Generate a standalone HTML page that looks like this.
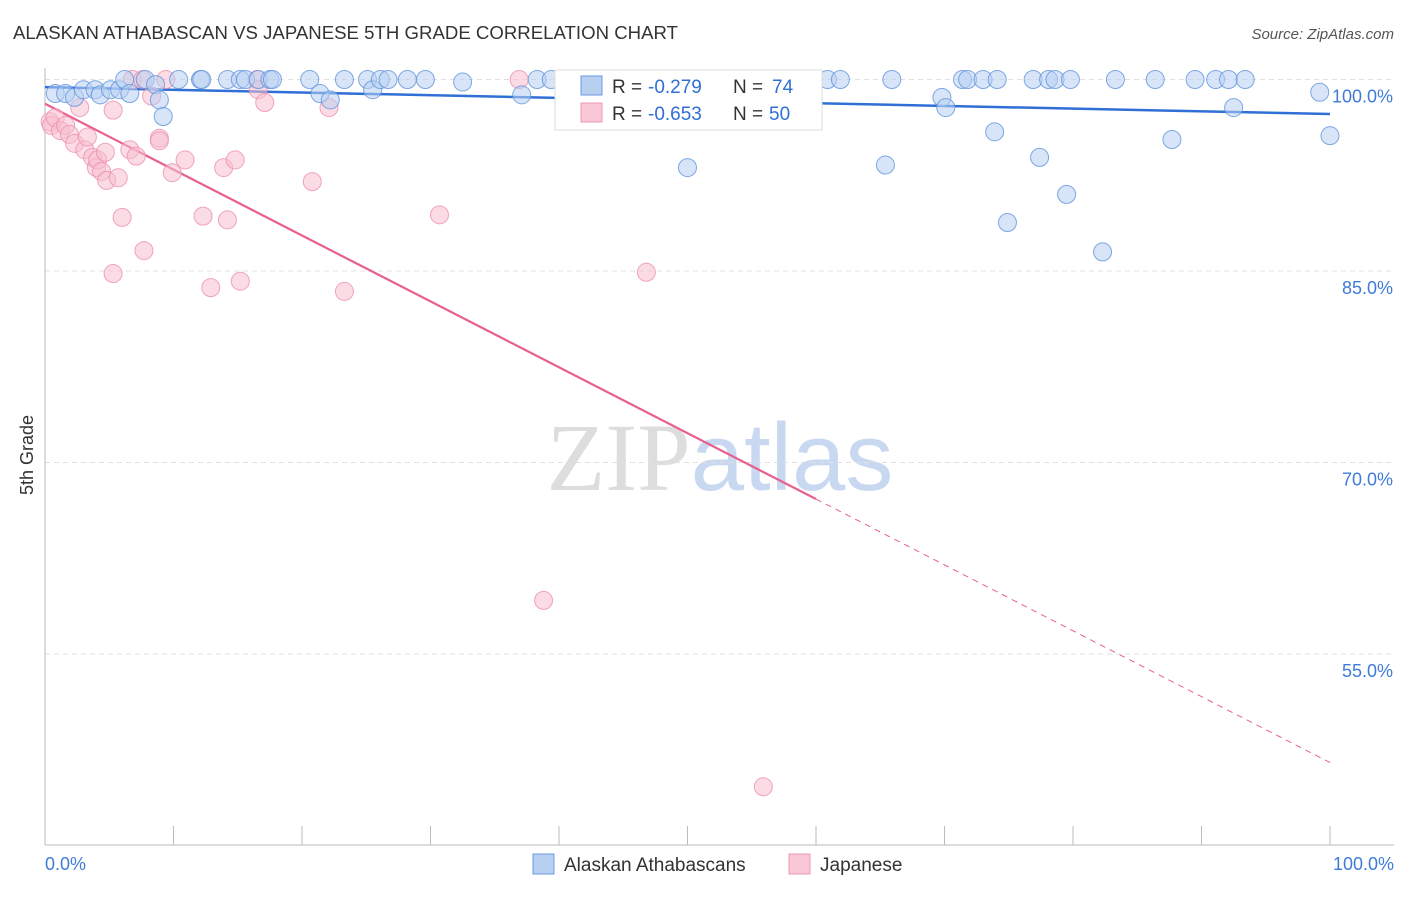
<!DOCTYPE html>
<html><head><meta charset="utf-8"><style>
body{margin:0;background:#fff;font-family:"Liberation Sans",sans-serif}
text{font-family:"Liberation Sans",sans-serif}
</style></head><body>
<svg id="chart" width="1406" height="892" xmlns="http://www.w3.org/2000/svg">
<text x="13" y="39" font-size="18.6" fill="#333" textLength="665">ALASKAN ATHABASCAN VS JAPANESE 5TH GRADE CORRELATION CHART</text>
<text x="1394" y="39" font-size="15" fill="#555" text-anchor="end" font-style="italic">Source: ZipAtlas.com</text>
<text x="720" y="490" font-size="96" text-anchor="middle"><tspan fill="#ddd" font-family="Liberation Serif">ZIP</tspan><tspan fill="#c8d8f0">atlas</tspan></text>
<text transform="translate(33,455) rotate(-90)" font-size="18" fill="#333" text-anchor="middle">5th Grade</text>
<g id="grid"></g><g id="axes"></g><g id="lines"></g><g id="points"></g>
<g>
<rect x="555" y="70" width="267" height="60" fill="#fff" stroke="#ddd"/>
<rect x="581" y="76" width="21" height="19" fill="#b8d0f0" stroke="#6a9ae0"/>
<text x="612" y="93" font-size="19" fill="#333">R =</text>
<text x="648" y="93" font-size="19" fill="#2f6fd6">-0.279</text>
<text x="733" y="93" font-size="19" fill="#333">N =</text>
<text x="772" y="93" font-size="19" fill="#2f6fd6">74</text>
<rect x="581" y="103" width="21" height="19" fill="#f8c8d6" stroke="#ee9ab4"/>
<text x="612" y="120" font-size="19" fill="#333">R =</text>
<text x="648" y="120" font-size="19" fill="#2f6fd6">-0.653</text>
<text x="733" y="120" font-size="19" fill="#333">N =</text>
<text x="769" y="120" font-size="19" fill="#2f6fd6">50</text>
</g>
<g>
<rect x="533" y="854" width="21" height="20" fill="#b8d0f0" stroke="#6a9ae0"/>
<text x="564" y="871" font-size="19" fill="#333">Alaskan Athabascans</text>
<rect x="789" y="854" width="21" height="20" fill="#f8c8d6" stroke="#ee9ab4"/>
<text x="820" y="871" font-size="19" fill="#333">Japanese</text>
</g>
</svg>
<script>
const blueX=[0.8,1.6,2.3,3.0,3.9,4.3,5.1,5.8,6.2,6.6,7.8,8.6,8.9,9.2,10.4,12.1,12.2,14.2,15.2,15.6,16.6,17.5,17.7,20.6,21.4,22.2,23.3,25.1,25.5,26.1,26.7,28.2,29.6,32.5,37.1,38.3,39.4,41.2,50.0,52.9,60.9,61.9,65.4,65.9,69.8,70.1,71.4,71.8,73.0,73.9,74.1,74.9,76.9,77.4,78.1,78.6,79.5,79.8,82.3,83.3,86.4,87.7,89.5,91.1,92.1,92.5,93.4,99.2,100.0];
const blueY=[98.9,98.9,98.6,99.2,99.2,98.8,99.2,99.2,100,98.9,100,99.6,98.4,97.1,100,100,100,100,100,100,100,100,100,100,98.9,98.4,100,100,99.2,100,100,100,100,99.8,98.8,100,100,100,93.1,97.1,100,100,93.3,100,98.6,97.8,100,100,100,95.9,100,88.8,100,93.9,100,100,91.0,100,86.5,100,100,95.3,100,100,100,97.8,100,99.0,95.6];
const pinkX=[0.4,0.5,0.8,1.2,1.6,1.9,2.3,2.7,3.1,3.3,3.7,4.0,4.1,4.4,4.7,4.8,5.3,5.3,5.7,6.0,6.6,7.1,6.8,7.7,7.6,8.3,8.9,8.9,9.4,9.9,10.9,12.3,12.9,13.9,14.2,14.8,15.2,16.5,16.6,17.1,20.8,22.1,23.3,30.7,36.9,38.8,46.8,55.9];
const pinkY=[96.7,96.4,97.0,96.0,96.4,95.7,95.0,97.8,94.5,95.5,93.9,93.1,93.7,92.8,94.3,92.1,97.6,84.8,92.3,89.2,94.5,94.0,100,86.6,100,98.7,95.4,95.2,100,92.7,93.7,89.3,83.7,93.1,89.0,93.7,84.2,100,99.2,98.2,92.0,97.8,83.4,89.4,100,59.2,84.9,44.6];
const yTicks=[100,85,70,55];
const yTickLabels=["100.0%","85.0%","70.0%","55.0%"];
const xTicks=[0,10,20,30,40,50,60,70,80,90,100];
const blueTrend=[99.4,97.3];
const pinkTrend=[98.1,46.5];
const pinkSolidEnd=60;
const NS="http://www.w3.org/2000/svg";
const xs=v=>45+v*12.85;
const ys=v=>79.5+(100-v)*12.767;
function mk(tag,attrs,parent){const e=document.createElementNS(NS,tag);for(const k in attrs)e.setAttribute(k,attrs[k]);document.getElementById(parent).appendChild(e);return e;}
yTicks.forEach((t,i)=>{
 const l=mk('line',{x1:45,x2:1394,y1:ys(t),y2:ys(t),stroke:'#e0e0e0','stroke-dasharray':'5,4'},'grid');
 
 
 const tx=mk('text',{x:1393,y:ys(t)+23,'font-size':18,fill:'#3f7bd9','text-anchor':'end'},'grid');
 tx.textContent=yTickLabels[i];
 
 
});
const ax=mk('line',{x1:45,x2:1394,y1:845,y2:845,stroke:'#bbb'},'axes');


const ay=mk('line',{x1:45,x2:45,y1:68,y2:845,stroke:'#bbb'},'axes');


xTicks.forEach(t=>{
 const l=mk('line',{x1:xs(t),x2:xs(t),y1:826,y2:845,stroke:'#bbb'},'axes');
 
 
});
const xl0=mk('text',{x:45,y:870,'font-size':18,fill:'#3f7bd9'},'axes');xl0.textContent='0.0%';


const xl1=mk('text',{x:1394,y:870,'font-size':18,fill:'#3f7bd9','text-anchor':'end'},'axes');xl1.textContent='100.0%';


function dot(x,y,f,s,name){const c=mk('circle',{cx:xs(x),cy:ys(y),r:9,fill:f,'fill-opacity':0.55,stroke:s,'stroke-opacity':0.8,'stroke-width':1},'points');
 
 }
pinkX.forEach((x,i)=>dot(x,pinkY[i],'#f7bfd0','#ec8fae','japanese-point'));
blueX.forEach((x,i)=>dot(x,blueY[i],'#b8d0f2','#5f93dc','athabascan-point'));
const bt=mk('line',{x1:xs(0),y1:ys(blueTrend[0]),x2:xs(100),y2:ys(blueTrend[1]),stroke:'#2f6fd6','stroke-width':2.5},'lines');


const pm=pinkTrend[0]+(pinkTrend[1]-pinkTrend[0])*pinkSolidEnd/100;
const pt=mk('line',{x1:xs(0),y1:ys(pinkTrend[0]),x2:xs(pinkSolidEnd),y2:ys(pm),stroke:'#e8608e','stroke-width':2.2},'lines');


const pd=mk('line',{x1:xs(pinkSolidEnd),y1:ys(pm),x2:xs(100),y2:ys(pinkTrend[1]),stroke:'#e8608e','stroke-width':1,'stroke-dasharray':'6,5'},'lines');


</script>
</body></html>
